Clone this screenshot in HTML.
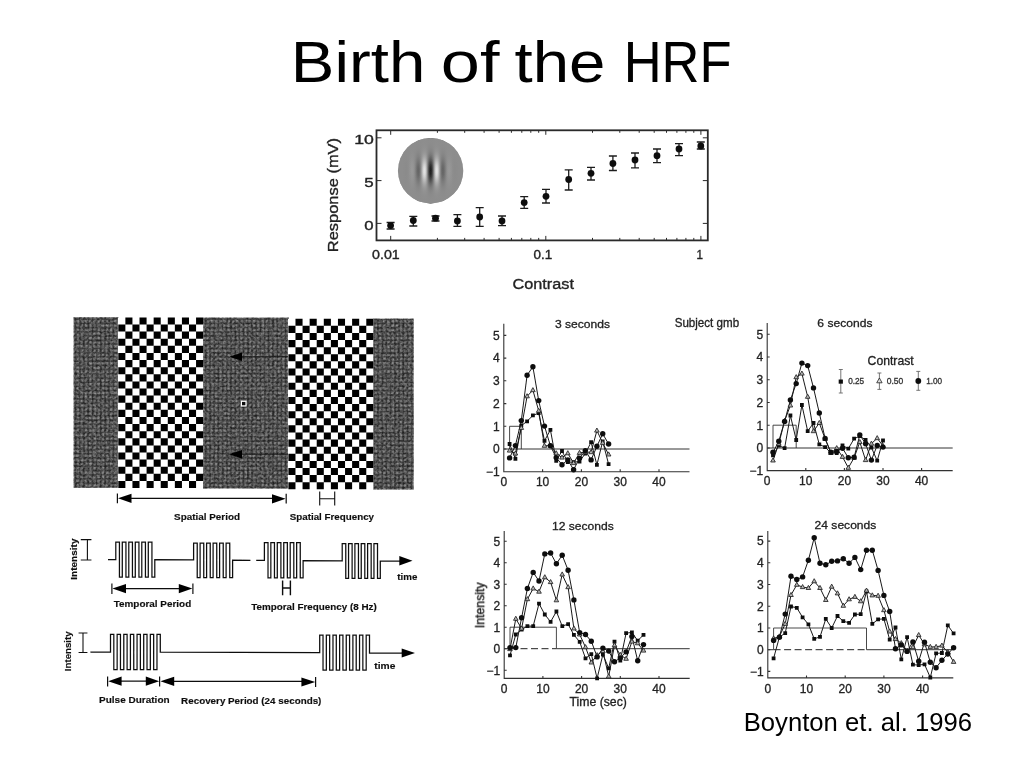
<!DOCTYPE html>
<html lang="en"><head><meta charset="utf-8"><title>Birth of the HRF</title>
<style>html,body{margin:0;padding:0;background:#fff;}body{width:1024px;height:768px;overflow:hidden;}svg{display:block;}text{font-family:'Liberation Sans', Arial, Helvetica, sans-serif;}</style>
</head><body>
<svg width="1024" height="768" viewBox="0 0 1024 768">
<defs>
<pattern id="dither" width="4.2" height="4.2" patternUnits="userSpaceOnUse"><rect width="4.2" height="4.2" fill="#2e2e2e"/><rect x="0.6" y="0.6" width="3" height="3" fill="#6c6c6c"/><rect x="1.2" y="1.2" width="1.8" height="1.8" fill="#828282"/></pattern>
<filter id="noise" x="0" y="0" width="100%" height="100%" color-interpolation-filters="sRGB"><feTurbulence type="fractalNoise" baseFrequency="0.4" numOctaves="2" seed="11" result="n"/><feColorMatrix in="n" type="matrix" values="1.4 0 0 0 -0.38  1.4 0 0 0 -0.38  1.4 0 0 0 -0.38  0 0 0 0 1"/></filter>
<linearGradient id="gaborBars" gradientUnits="userSpaceOnUse" x1="396.6" x2="464.6" y1="0" y2="0">
<stop offset="0.0000" stop-color="#8d8d8d"/>
<stop offset="0.0147" stop-color="#8d8d8d"/>
<stop offset="0.0294" stop-color="#8d8d8d"/>
<stop offset="0.0441" stop-color="#8d8d8d"/>
<stop offset="0.0588" stop-color="#8d8d8d"/>
<stop offset="0.0735" stop-color="#8d8d8d"/>
<stop offset="0.0882" stop-color="#8d8d8d"/>
<stop offset="0.1029" stop-color="#8c8c8c"/>
<stop offset="0.1176" stop-color="#8c8c8c"/>
<stop offset="0.1324" stop-color="#8b8b8b"/>
<stop offset="0.1471" stop-color="#8b8b8b"/>
<stop offset="0.1618" stop-color="#8c8c8c"/>
<stop offset="0.1765" stop-color="#8e8e8e"/>
<stop offset="0.1912" stop-color="#929292"/>
<stop offset="0.2059" stop-color="#959595"/>
<stop offset="0.2206" stop-color="#989898"/>
<stop offset="0.2353" stop-color="#989898"/>
<stop offset="0.2500" stop-color="#949494"/>
<stop offset="0.2647" stop-color="#8c8c8c"/>
<stop offset="0.2794" stop-color="#7f7f7f"/>
<stop offset="0.2941" stop-color="#727272"/>
<stop offset="0.3088" stop-color="#676767"/>
<stop offset="0.3235" stop-color="#656565"/>
<stop offset="0.3382" stop-color="#6e6e6e"/>
<stop offset="0.3529" stop-color="#848484"/>
<stop offset="0.3676" stop-color="#a2a2a2"/>
<stop offset="0.3824" stop-color="#c3c3c3"/>
<stop offset="0.3971" stop-color="#dcdcdc"/>
<stop offset="0.4118" stop-color="#e4e4e4"/>
<stop offset="0.4265" stop-color="#d6d6d6"/>
<stop offset="0.4412" stop-color="#b2b2b2"/>
<stop offset="0.4559" stop-color="#818181"/>
<stop offset="0.4706" stop-color="#505050"/>
<stop offset="0.4853" stop-color="#2b2b2b"/>
<stop offset="0.5000" stop-color="#1d1d1d"/>
<stop offset="0.5147" stop-color="#2b2b2b"/>
<stop offset="0.5294" stop-color="#505050"/>
<stop offset="0.5441" stop-color="#818181"/>
<stop offset="0.5588" stop-color="#b2b2b2"/>
<stop offset="0.5735" stop-color="#d6d6d6"/>
<stop offset="0.5882" stop-color="#e4e4e4"/>
<stop offset="0.6029" stop-color="#dcdcdc"/>
<stop offset="0.6176" stop-color="#c3c3c3"/>
<stop offset="0.6324" stop-color="#a2a2a2"/>
<stop offset="0.6471" stop-color="#848484"/>
<stop offset="0.6618" stop-color="#6e6e6e"/>
<stop offset="0.6765" stop-color="#656565"/>
<stop offset="0.6912" stop-color="#676767"/>
<stop offset="0.7059" stop-color="#727272"/>
<stop offset="0.7206" stop-color="#7f7f7f"/>
<stop offset="0.7353" stop-color="#8c8c8c"/>
<stop offset="0.7500" stop-color="#949494"/>
<stop offset="0.7647" stop-color="#989898"/>
<stop offset="0.7794" stop-color="#989898"/>
<stop offset="0.7941" stop-color="#959595"/>
<stop offset="0.8088" stop-color="#929292"/>
<stop offset="0.8235" stop-color="#8e8e8e"/>
<stop offset="0.8382" stop-color="#8c8c8c"/>
<stop offset="0.8529" stop-color="#8b8b8b"/>
<stop offset="0.8676" stop-color="#8b8b8b"/>
<stop offset="0.8824" stop-color="#8c8c8c"/>
<stop offset="0.8971" stop-color="#8c8c8c"/>
<stop offset="0.9118" stop-color="#8d8d8d"/>
<stop offset="0.9265" stop-color="#8d8d8d"/>
<stop offset="0.9412" stop-color="#8d8d8d"/>
<stop offset="0.9559" stop-color="#8d8d8d"/>
<stop offset="0.9706" stop-color="#8d8d8d"/>
<stop offset="0.9853" stop-color="#8d8d8d"/>
<stop offset="1.0000" stop-color="#8d8d8d"/>
</linearGradient>
<linearGradient id="gaborEnv" gradientUnits="userSpaceOnUse" x1="0" x2="0" y1="136.7" y2="204.7">
<stop offset="0.0000" stop-color="#8d8d8d" stop-opacity="0.999"/>
<stop offset="0.0294" stop-color="#8d8d8d" stop-opacity="0.999"/>
<stop offset="0.0588" stop-color="#8d8d8d" stop-opacity="0.997"/>
<stop offset="0.0882" stop-color="#8d8d8d" stop-opacity="0.994"/>
<stop offset="0.1176" stop-color="#8d8d8d" stop-opacity="0.987"/>
<stop offset="0.1471" stop-color="#8d8d8d" stop-opacity="0.976"/>
<stop offset="0.1765" stop-color="#8d8d8d" stop-opacity="0.956"/>
<stop offset="0.2059" stop-color="#8d8d8d" stop-opacity="0.924"/>
<stop offset="0.2353" stop-color="#8d8d8d" stop-opacity="0.877"/>
<stop offset="0.2647" stop-color="#8d8d8d" stop-opacity="0.809"/>
<stop offset="0.2941" stop-color="#8d8d8d" stop-opacity="0.718"/>
<stop offset="0.3235" stop-color="#8d8d8d" stop-opacity="0.605"/>
<stop offset="0.3529" stop-color="#8d8d8d" stop-opacity="0.476"/>
<stop offset="0.3824" stop-color="#8d8d8d" stop-opacity="0.338"/>
<stop offset="0.4118" stop-color="#8d8d8d" stop-opacity="0.207"/>
<stop offset="0.4412" stop-color="#8d8d8d" stop-opacity="0.098"/>
<stop offset="0.4706" stop-color="#8d8d8d" stop-opacity="0.025"/>
<stop offset="0.5000" stop-color="#8d8d8d" stop-opacity="0.000"/>
<stop offset="0.5294" stop-color="#8d8d8d" stop-opacity="0.025"/>
<stop offset="0.5588" stop-color="#8d8d8d" stop-opacity="0.098"/>
<stop offset="0.5882" stop-color="#8d8d8d" stop-opacity="0.207"/>
<stop offset="0.6176" stop-color="#8d8d8d" stop-opacity="0.338"/>
<stop offset="0.6471" stop-color="#8d8d8d" stop-opacity="0.476"/>
<stop offset="0.6765" stop-color="#8d8d8d" stop-opacity="0.605"/>
<stop offset="0.7059" stop-color="#8d8d8d" stop-opacity="0.718"/>
<stop offset="0.7353" stop-color="#8d8d8d" stop-opacity="0.809"/>
<stop offset="0.7647" stop-color="#8d8d8d" stop-opacity="0.877"/>
<stop offset="0.7941" stop-color="#8d8d8d" stop-opacity="0.924"/>
<stop offset="0.8235" stop-color="#8d8d8d" stop-opacity="0.956"/>
<stop offset="0.8529" stop-color="#8d8d8d" stop-opacity="0.976"/>
<stop offset="0.8824" stop-color="#8d8d8d" stop-opacity="0.987"/>
<stop offset="0.9118" stop-color="#8d8d8d" stop-opacity="0.994"/>
<stop offset="0.9412" stop-color="#8d8d8d" stop-opacity="0.997"/>
<stop offset="0.9706" stop-color="#8d8d8d" stop-opacity="0.999"/>
<stop offset="1.0000" stop-color="#8d8d8d" stop-opacity="0.999"/>
</linearGradient>
<clipPath id="gclip"><circle cx="430.6" cy="170.7" r="32.7"/></clipPath>
<filter id="soft" x="-2%" y="-2%" width="104%" height="104%"><feGaussianBlur stdDeviation="0.4"/></filter>
</defs>
<text x="290.89" y="81.5" font-size="57.5" text-anchor="start" font-weight="normal" fill="#000" textLength="134.37" lengthAdjust="spacingAndGlyphs">Birth</text>
<text x="440.8" y="81.5" font-size="57.5" text-anchor="start" font-weight="normal" fill="#000" textLength="58.63" lengthAdjust="spacingAndGlyphs">of</text>
<text x="514.52" y="81.5" font-size="57.5" text-anchor="start" font-weight="normal" fill="#000" textLength="90.87" lengthAdjust="spacingAndGlyphs">the</text>
<text x="623.69" y="81.5" font-size="57.5" text-anchor="start" font-weight="normal" fill="#000" textLength="107.92" lengthAdjust="spacingAndGlyphs">HRF</text>
<g id="crf" filter="url(#soft)">
<rect x="376.5" y="130.3" width="331.29999999999995" height="110.1" fill="#fff" stroke="#2a2a2a" stroke-width="1.8"/>
<path d="M390.7 240.4v-4.5M390.7 130.3v4.5M437.4 240.4v-2.5M437.4 130.3v2.5M464.7 240.4v-2.5M464.7 130.3v2.5M484.1 240.4v-2.5M484.1 130.3v2.5M499.1 240.4v-2.5M499.1 130.3v2.5M511.4 240.4v-2.5M511.4 130.3v2.5M521.8 240.4v-2.5M521.8 130.3v2.5M530.8 240.4v-2.5M530.8 130.3v2.5M538.7 240.4v-2.5M538.7 130.3v2.5M545.8 240.4v-4.5M545.8 130.3v4.5M592.5 240.4v-2.5M592.5 130.3v2.5M619.8 240.4v-2.5M619.8 130.3v2.5M639.2 240.4v-2.5M639.2 130.3v2.5M654.2 240.4v-2.5M654.2 130.3v2.5M666.5 240.4v-2.5M666.5 130.3v2.5M676.9 240.4v-2.5M676.9 130.3v2.5M685.9 240.4v-2.5M685.9 130.3v2.5M693.8 240.4v-2.5M693.8 130.3v2.5M700.9 240.4v-4.5M700.9 130.3v4.5M376.5 223.4h5M707.8 223.4h-5M376.5 180.6h5M707.8 180.6h-5M376.5 137.8h5M707.8 137.8h-5" stroke="#2a2a2a" stroke-width="1" fill="none"/>
<g clip-path="url(#gclip)">
<rect x="397" y="137" width="68" height="68" fill="url(#gaborBars)"/>
<rect x="397" y="137" width="68" height="68" fill="url(#gaborEnv)"/>
</g>
<path d="M390.6 222.5V229.0M386.6 222.5h8M386.6 229.0h8M413.3 216.3V226.0M409.3 216.3h8M409.3 226.0h8M435.5 216.0V221.0M431.5 216.0h8M431.5 221.0h8M457.4 214.7V226.4M453.4 214.7h8M453.4 226.4h8M479.7 207.7V226.4M475.7 207.7h8M475.7 226.4h8M502.0 216.0V225.6M498.0 216.0h8M498.0 225.6h8M524.2 196.7V208.4M520.2 196.7h8M520.2 208.4h8M546.0 189.3V203.0M542.0 189.3h8M542.0 203.0h8M568.7 169.8V190.0M564.7 169.8h8M564.7 190.0h8M591.0 167.4V180.0M587.0 167.4h8M587.0 180.0h8M612.9 156.0V170.5M608.9 156.0h8M608.9 170.5h8M635.0 153.0V167.8M631.0 153.0h8M631.0 167.8h8M657.0 149.0V162.7M653.0 149.0h8M653.0 162.7h8M679.0 143.6V155.7M675.0 143.6h8M675.0 155.7h8M700.8 142.0V149.0M696.8 142.0h8M696.8 149.0h8" stroke="#1c1c1c" stroke-width="1.3" fill="none"/>
<circle cx="390.6" cy="225.6" r="3.4" fill="#111"/>
<circle cx="413.3" cy="220.5" r="3.4" fill="#111"/>
<circle cx="435.5" cy="218.2" r="3.4" fill="#111"/>
<circle cx="457.4" cy="221.0" r="3.4" fill="#111"/>
<circle cx="479.7" cy="217.0" r="3.4" fill="#111"/>
<circle cx="502.0" cy="221.0" r="3.4" fill="#111"/>
<circle cx="524.2" cy="202.6" r="3.4" fill="#111"/>
<circle cx="546.0" cy="196.3" r="3.4" fill="#111"/>
<circle cx="568.7" cy="179.5" r="3.4" fill="#111"/>
<circle cx="591.0" cy="173.3" r="3.4" fill="#111"/>
<circle cx="612.9" cy="163.5" r="3.4" fill="#111"/>
<circle cx="635.0" cy="160.0" r="3.4" fill="#111"/>
<circle cx="657.0" cy="155.7" r="3.4" fill="#111"/>
<circle cx="679.0" cy="149.0" r="3.4" fill="#111"/>
<circle cx="700.8" cy="146.0" r="3.4" fill="#111"/>
<text x="354.26" y="143.8" font-size="13" text-anchor="start" font-weight="normal" fill="#222" textLength="19.64" lengthAdjust="spacingAndGlyphs" stroke="#222" stroke-width="0.35">10</text>
<text x="364.32" y="187.2" font-size="13" text-anchor="start" font-weight="normal" fill="#222" textLength="9.39" lengthAdjust="spacingAndGlyphs" stroke="#222" stroke-width="0.35">5</text>
<text x="364.35" y="230.2" font-size="13" text-anchor="start" font-weight="normal" fill="#222" textLength="9.31" lengthAdjust="spacingAndGlyphs" stroke="#222" stroke-width="0.35">0</text>
<text x="372.05" y="258.6" font-size="12.5" text-anchor="start" font-weight="normal" fill="#222" textLength="27.65" lengthAdjust="spacingAndGlyphs" stroke="#222" stroke-width="0.35">0.01</text>
<text x="533.48" y="258.6" font-size="12.5" text-anchor="start" font-weight="normal" fill="#222" textLength="18.68" lengthAdjust="spacingAndGlyphs" stroke="#222" stroke-width="0.35">0.1</text>
<text x="696.42" y="258.6" font-size="12.5" text-anchor="start" font-weight="normal" fill="#222" textLength="6.45" lengthAdjust="spacingAndGlyphs" stroke="#222" stroke-width="0.35">1</text>
<text x="512.47" y="288.5" font-size="15.5" text-anchor="start" font-weight="normal" fill="#222" textLength="61.45" lengthAdjust="spacingAndGlyphs" stroke="#222" stroke-width="0.35">Contrast</text>
<text transform="translate(337.8,252.15) rotate(-90)" font-size="15.4" font-weight="normal" fill="#222" stroke="#222" stroke-width="0.35" textLength="114.16" lengthAdjust="spacingAndGlyphs">Response (mV)</text>
</g>
<g id="stim" filter="url(#soft)">
<rect x="73.8" y="317.3" width="45" height="170.4" fill="url(#dither)"/>
<rect x="73.8" y="317.3" width="45" height="170.4" fill="#505050" filter="url(#noise)" opacity="0.35"/>
<rect x="203" y="317.8" width="86" height="170.6" fill="url(#dither)"/>
<rect x="203" y="317.8" width="86" height="170.6" fill="#505050" filter="url(#noise)" opacity="0.35"/>
<rect x="373" y="318.8" width="40.6" height="170.6" fill="url(#dither)"/>
<rect x="373" y="318.8" width="40.6" height="170.6" fill="#505050" filter="url(#noise)" opacity="0.35"/>
<rect x="117.80" y="317.40" width="85.34" height="170.64" fill="#fff"/>
<path d="M125.37 317.40h7.07v7.11h-7.07zM139.51 317.40h7.07v7.11h-7.07zM153.65 317.40h7.07v7.11h-7.07zM167.79 317.40h7.07v7.11h-7.07zM181.93 317.40h7.07v7.11h-7.07zM196.07 317.40h7.07v7.11h-7.07zM118.30 324.51h7.07v7.11h-7.07zM132.44 324.51h7.07v7.11h-7.07zM146.58 324.51h7.07v7.11h-7.07zM160.72 324.51h7.07v7.11h-7.07zM174.86 324.51h7.07v7.11h-7.07zM189.00 324.51h7.07v7.11h-7.07zM125.37 331.62h7.07v7.11h-7.07zM139.51 331.62h7.07v7.11h-7.07zM153.65 331.62h7.07v7.11h-7.07zM167.79 331.62h7.07v7.11h-7.07zM181.93 331.62h7.07v7.11h-7.07zM196.07 331.62h7.07v7.11h-7.07zM118.30 338.73h7.07v7.11h-7.07zM132.44 338.73h7.07v7.11h-7.07zM146.58 338.73h7.07v7.11h-7.07zM160.72 338.73h7.07v7.11h-7.07zM174.86 338.73h7.07v7.11h-7.07zM189.00 338.73h7.07v7.11h-7.07zM125.37 345.84h7.07v7.11h-7.07zM139.51 345.84h7.07v7.11h-7.07zM153.65 345.84h7.07v7.11h-7.07zM167.79 345.84h7.07v7.11h-7.07zM181.93 345.84h7.07v7.11h-7.07zM196.07 345.84h7.07v7.11h-7.07zM118.30 352.95h7.07v7.11h-7.07zM132.44 352.95h7.07v7.11h-7.07zM146.58 352.95h7.07v7.11h-7.07zM160.72 352.95h7.07v7.11h-7.07zM174.86 352.95h7.07v7.11h-7.07zM189.00 352.95h7.07v7.11h-7.07zM125.37 360.06h7.07v7.11h-7.07zM139.51 360.06h7.07v7.11h-7.07zM153.65 360.06h7.07v7.11h-7.07zM167.79 360.06h7.07v7.11h-7.07zM181.93 360.06h7.07v7.11h-7.07zM196.07 360.06h7.07v7.11h-7.07zM118.30 367.17h7.07v7.11h-7.07zM132.44 367.17h7.07v7.11h-7.07zM146.58 367.17h7.07v7.11h-7.07zM160.72 367.17h7.07v7.11h-7.07zM174.86 367.17h7.07v7.11h-7.07zM189.00 367.17h7.07v7.11h-7.07zM125.37 374.28h7.07v7.11h-7.07zM139.51 374.28h7.07v7.11h-7.07zM153.65 374.28h7.07v7.11h-7.07zM167.79 374.28h7.07v7.11h-7.07zM181.93 374.28h7.07v7.11h-7.07zM196.07 374.28h7.07v7.11h-7.07zM118.30 381.39h7.07v7.11h-7.07zM132.44 381.39h7.07v7.11h-7.07zM146.58 381.39h7.07v7.11h-7.07zM160.72 381.39h7.07v7.11h-7.07zM174.86 381.39h7.07v7.11h-7.07zM189.00 381.39h7.07v7.11h-7.07zM125.37 388.50h7.07v7.11h-7.07zM139.51 388.50h7.07v7.11h-7.07zM153.65 388.50h7.07v7.11h-7.07zM167.79 388.50h7.07v7.11h-7.07zM181.93 388.50h7.07v7.11h-7.07zM196.07 388.50h7.07v7.11h-7.07zM118.30 395.61h7.07v7.11h-7.07zM132.44 395.61h7.07v7.11h-7.07zM146.58 395.61h7.07v7.11h-7.07zM160.72 395.61h7.07v7.11h-7.07zM174.86 395.61h7.07v7.11h-7.07zM189.00 395.61h7.07v7.11h-7.07zM125.37 402.72h7.07v7.11h-7.07zM139.51 402.72h7.07v7.11h-7.07zM153.65 402.72h7.07v7.11h-7.07zM167.79 402.72h7.07v7.11h-7.07zM181.93 402.72h7.07v7.11h-7.07zM196.07 402.72h7.07v7.11h-7.07zM118.30 409.83h7.07v7.11h-7.07zM132.44 409.83h7.07v7.11h-7.07zM146.58 409.83h7.07v7.11h-7.07zM160.72 409.83h7.07v7.11h-7.07zM174.86 409.83h7.07v7.11h-7.07zM189.00 409.83h7.07v7.11h-7.07zM125.37 416.94h7.07v7.11h-7.07zM139.51 416.94h7.07v7.11h-7.07zM153.65 416.94h7.07v7.11h-7.07zM167.79 416.94h7.07v7.11h-7.07zM181.93 416.94h7.07v7.11h-7.07zM196.07 416.94h7.07v7.11h-7.07zM118.30 424.05h7.07v7.11h-7.07zM132.44 424.05h7.07v7.11h-7.07zM146.58 424.05h7.07v7.11h-7.07zM160.72 424.05h7.07v7.11h-7.07zM174.86 424.05h7.07v7.11h-7.07zM189.00 424.05h7.07v7.11h-7.07zM125.37 431.16h7.07v7.11h-7.07zM139.51 431.16h7.07v7.11h-7.07zM153.65 431.16h7.07v7.11h-7.07zM167.79 431.16h7.07v7.11h-7.07zM181.93 431.16h7.07v7.11h-7.07zM196.07 431.16h7.07v7.11h-7.07zM118.30 438.27h7.07v7.11h-7.07zM132.44 438.27h7.07v7.11h-7.07zM146.58 438.27h7.07v7.11h-7.07zM160.72 438.27h7.07v7.11h-7.07zM174.86 438.27h7.07v7.11h-7.07zM189.00 438.27h7.07v7.11h-7.07zM125.37 445.38h7.07v7.11h-7.07zM139.51 445.38h7.07v7.11h-7.07zM153.65 445.38h7.07v7.11h-7.07zM167.79 445.38h7.07v7.11h-7.07zM181.93 445.38h7.07v7.11h-7.07zM196.07 445.38h7.07v7.11h-7.07zM118.30 452.49h7.07v7.11h-7.07zM132.44 452.49h7.07v7.11h-7.07zM146.58 452.49h7.07v7.11h-7.07zM160.72 452.49h7.07v7.11h-7.07zM174.86 452.49h7.07v7.11h-7.07zM189.00 452.49h7.07v7.11h-7.07zM125.37 459.60h7.07v7.11h-7.07zM139.51 459.60h7.07v7.11h-7.07zM153.65 459.60h7.07v7.11h-7.07zM167.79 459.60h7.07v7.11h-7.07zM181.93 459.60h7.07v7.11h-7.07zM196.07 459.60h7.07v7.11h-7.07zM118.30 466.71h7.07v7.11h-7.07zM132.44 466.71h7.07v7.11h-7.07zM146.58 466.71h7.07v7.11h-7.07zM160.72 466.71h7.07v7.11h-7.07zM174.86 466.71h7.07v7.11h-7.07zM189.00 466.71h7.07v7.11h-7.07zM125.37 473.82h7.07v7.11h-7.07zM139.51 473.82h7.07v7.11h-7.07zM153.65 473.82h7.07v7.11h-7.07zM167.79 473.82h7.07v7.11h-7.07zM181.93 473.82h7.07v7.11h-7.07zM196.07 473.82h7.07v7.11h-7.07zM118.30 480.93h7.07v7.11h-7.07zM132.44 480.93h7.07v7.11h-7.07zM146.58 480.93h7.07v7.11h-7.07zM160.72 480.93h7.07v7.11h-7.07zM174.86 480.93h7.07v7.11h-7.07zM189.00 480.93h7.07v7.11h-7.07z" fill="#000"/>
<rect x="287.90" y="318.70" width="85.46" height="170.64" fill="#fff"/>
<path d="M295.48 318.70h7.08v7.11h-7.08zM309.64 318.70h7.08v7.11h-7.08zM323.80 318.70h7.08v7.11h-7.08zM337.96 318.70h7.08v7.11h-7.08zM352.12 318.70h7.08v7.11h-7.08zM366.28 318.70h7.08v7.11h-7.08zM288.40 325.81h7.08v7.11h-7.08zM302.56 325.81h7.08v7.11h-7.08zM316.72 325.81h7.08v7.11h-7.08zM330.88 325.81h7.08v7.11h-7.08zM345.04 325.81h7.08v7.11h-7.08zM359.20 325.81h7.08v7.11h-7.08zM295.48 332.92h7.08v7.11h-7.08zM309.64 332.92h7.08v7.11h-7.08zM323.80 332.92h7.08v7.11h-7.08zM337.96 332.92h7.08v7.11h-7.08zM352.12 332.92h7.08v7.11h-7.08zM366.28 332.92h7.08v7.11h-7.08zM288.40 340.03h7.08v7.11h-7.08zM302.56 340.03h7.08v7.11h-7.08zM316.72 340.03h7.08v7.11h-7.08zM330.88 340.03h7.08v7.11h-7.08zM345.04 340.03h7.08v7.11h-7.08zM359.20 340.03h7.08v7.11h-7.08zM295.48 347.14h7.08v7.11h-7.08zM309.64 347.14h7.08v7.11h-7.08zM323.80 347.14h7.08v7.11h-7.08zM337.96 347.14h7.08v7.11h-7.08zM352.12 347.14h7.08v7.11h-7.08zM366.28 347.14h7.08v7.11h-7.08zM288.40 354.25h7.08v7.11h-7.08zM302.56 354.25h7.08v7.11h-7.08zM316.72 354.25h7.08v7.11h-7.08zM330.88 354.25h7.08v7.11h-7.08zM345.04 354.25h7.08v7.11h-7.08zM359.20 354.25h7.08v7.11h-7.08zM295.48 361.36h7.08v7.11h-7.08zM309.64 361.36h7.08v7.11h-7.08zM323.80 361.36h7.08v7.11h-7.08zM337.96 361.36h7.08v7.11h-7.08zM352.12 361.36h7.08v7.11h-7.08zM366.28 361.36h7.08v7.11h-7.08zM288.40 368.47h7.08v7.11h-7.08zM302.56 368.47h7.08v7.11h-7.08zM316.72 368.47h7.08v7.11h-7.08zM330.88 368.47h7.08v7.11h-7.08zM345.04 368.47h7.08v7.11h-7.08zM359.20 368.47h7.08v7.11h-7.08zM295.48 375.58h7.08v7.11h-7.08zM309.64 375.58h7.08v7.11h-7.08zM323.80 375.58h7.08v7.11h-7.08zM337.96 375.58h7.08v7.11h-7.08zM352.12 375.58h7.08v7.11h-7.08zM366.28 375.58h7.08v7.11h-7.08zM288.40 382.69h7.08v7.11h-7.08zM302.56 382.69h7.08v7.11h-7.08zM316.72 382.69h7.08v7.11h-7.08zM330.88 382.69h7.08v7.11h-7.08zM345.04 382.69h7.08v7.11h-7.08zM359.20 382.69h7.08v7.11h-7.08zM295.48 389.80h7.08v7.11h-7.08zM309.64 389.80h7.08v7.11h-7.08zM323.80 389.80h7.08v7.11h-7.08zM337.96 389.80h7.08v7.11h-7.08zM352.12 389.80h7.08v7.11h-7.08zM366.28 389.80h7.08v7.11h-7.08zM288.40 396.91h7.08v7.11h-7.08zM302.56 396.91h7.08v7.11h-7.08zM316.72 396.91h7.08v7.11h-7.08zM330.88 396.91h7.08v7.11h-7.08zM345.04 396.91h7.08v7.11h-7.08zM359.20 396.91h7.08v7.11h-7.08zM295.48 404.02h7.08v7.11h-7.08zM309.64 404.02h7.08v7.11h-7.08zM323.80 404.02h7.08v7.11h-7.08zM337.96 404.02h7.08v7.11h-7.08zM352.12 404.02h7.08v7.11h-7.08zM366.28 404.02h7.08v7.11h-7.08zM288.40 411.13h7.08v7.11h-7.08zM302.56 411.13h7.08v7.11h-7.08zM316.72 411.13h7.08v7.11h-7.08zM330.88 411.13h7.08v7.11h-7.08zM345.04 411.13h7.08v7.11h-7.08zM359.20 411.13h7.08v7.11h-7.08zM295.48 418.24h7.08v7.11h-7.08zM309.64 418.24h7.08v7.11h-7.08zM323.80 418.24h7.08v7.11h-7.08zM337.96 418.24h7.08v7.11h-7.08zM352.12 418.24h7.08v7.11h-7.08zM366.28 418.24h7.08v7.11h-7.08zM288.40 425.35h7.08v7.11h-7.08zM302.56 425.35h7.08v7.11h-7.08zM316.72 425.35h7.08v7.11h-7.08zM330.88 425.35h7.08v7.11h-7.08zM345.04 425.35h7.08v7.11h-7.08zM359.20 425.35h7.08v7.11h-7.08zM295.48 432.46h7.08v7.11h-7.08zM309.64 432.46h7.08v7.11h-7.08zM323.80 432.46h7.08v7.11h-7.08zM337.96 432.46h7.08v7.11h-7.08zM352.12 432.46h7.08v7.11h-7.08zM366.28 432.46h7.08v7.11h-7.08zM288.40 439.57h7.08v7.11h-7.08zM302.56 439.57h7.08v7.11h-7.08zM316.72 439.57h7.08v7.11h-7.08zM330.88 439.57h7.08v7.11h-7.08zM345.04 439.57h7.08v7.11h-7.08zM359.20 439.57h7.08v7.11h-7.08zM295.48 446.68h7.08v7.11h-7.08zM309.64 446.68h7.08v7.11h-7.08zM323.80 446.68h7.08v7.11h-7.08zM337.96 446.68h7.08v7.11h-7.08zM352.12 446.68h7.08v7.11h-7.08zM366.28 446.68h7.08v7.11h-7.08zM288.40 453.79h7.08v7.11h-7.08zM302.56 453.79h7.08v7.11h-7.08zM316.72 453.79h7.08v7.11h-7.08zM330.88 453.79h7.08v7.11h-7.08zM345.04 453.79h7.08v7.11h-7.08zM359.20 453.79h7.08v7.11h-7.08zM295.48 460.90h7.08v7.11h-7.08zM309.64 460.90h7.08v7.11h-7.08zM323.80 460.90h7.08v7.11h-7.08zM337.96 460.90h7.08v7.11h-7.08zM352.12 460.90h7.08v7.11h-7.08zM366.28 460.90h7.08v7.11h-7.08zM288.40 468.01h7.08v7.11h-7.08zM302.56 468.01h7.08v7.11h-7.08zM316.72 468.01h7.08v7.11h-7.08zM330.88 468.01h7.08v7.11h-7.08zM345.04 468.01h7.08v7.11h-7.08zM359.20 468.01h7.08v7.11h-7.08zM295.48 475.12h7.08v7.11h-7.08zM309.64 475.12h7.08v7.11h-7.08zM323.80 475.12h7.08v7.11h-7.08zM337.96 475.12h7.08v7.11h-7.08zM352.12 475.12h7.08v7.11h-7.08zM366.28 475.12h7.08v7.11h-7.08zM288.40 482.23h7.08v7.11h-7.08zM302.56 482.23h7.08v7.11h-7.08zM316.72 482.23h7.08v7.11h-7.08zM330.88 482.23h7.08v7.11h-7.08zM345.04 482.23h7.08v7.11h-7.08zM359.20 482.23h7.08v7.11h-7.08z" fill="#000"/>
<path d="M242 356.7H288M242 454.3H288" stroke="#161616" stroke-width="0.8" fill="none"/>
<path d="M229.5 356.7l12.5 -4.2v8.4zM229 454.3l13 -4.2v8.4z" fill="#000"/>
<rect x="241.4" y="401.3" width="4.6" height="4.6" fill="#111" stroke="#fff" stroke-width="1.2"/>
<path d="M117.4 493.5V503.2M286.2 493.8V503.6M130 498.3H274" stroke="#111" stroke-width="1.2" fill="none"/>
<path d="M118 498.3l13.5 -4.6v9.2zM285.6 498.8l-13.6 -4.6v9.2z" fill="#000"/>
<path d="M319.7 491.4V505.6M334.7 491.4V505.6M319.7 498.8H334.7" stroke="#111" stroke-width="1.1" fill="none"/>
<text x="174.11" y="519.5" font-size="9.6" text-anchor="start" font-weight="bold" fill="#111" textLength="65.93" lengthAdjust="spacingAndGlyphs" stroke="#111" stroke-width="0.15">Spatial Period</text>
<text x="289.72" y="519.5" font-size="9.6" text-anchor="start" font-weight="bold" fill="#111" textLength="84.33" lengthAdjust="spacingAndGlyphs" stroke="#111" stroke-width="0.15">Spatial Frequency</text>
<path d="M108 559.5L115.80 559.50L115.80 542.20L119.44 542.20L119.44 577.10L122.30 577.10L122.30 542.20L125.94 542.20L125.94 577.10L128.80 577.10L128.80 542.20L132.44 542.20L132.44 577.10L135.30 577.10L135.30 542.20L138.94 542.20L138.94 577.10L141.80 577.10L141.80 542.20L145.44 542.20L145.44 577.10L148.30 577.10L148.30 542.20L151.94 542.20L151.94 577.10L154.80 577.10L154.80 559.70L193.60 559.90L193.60 543.00L197.24 543.00L197.24 577.50L200.10 577.50L200.10 543.00L203.74 543.00L203.74 577.50L206.60 577.50L206.60 543.00L210.24 543.00L210.24 577.50L213.10 577.50L213.10 543.00L216.74 543.00L216.74 577.50L219.60 577.50L219.60 543.00L223.24 543.00L223.24 577.50L226.10 577.50L226.10 543.00L229.74 543.00L229.74 577.50L232.60 577.50L232.60 560.20L250.4 560.3" stroke="#111" stroke-width="1.25" fill="none" stroke-linejoin="miter"/>
<path d="M256.2 560.4L264.40 560.40L264.40 542.60L268.01 542.60L268.01 577.80L270.85 577.80L270.85 542.60L274.46 542.60L274.46 577.80L277.30 577.80L277.30 542.60L280.91 542.60L280.91 577.80L283.75 577.80L283.75 542.60L287.36 542.60L287.36 577.80L290.20 577.80L290.20 542.60L293.81 542.60L293.81 577.80L296.65 577.80L296.65 542.60L300.26 542.60L300.26 577.80L303.10 577.80L303.10 560.60L342.20 560.80L342.20 543.50L345.76 543.50L345.76 578.30L348.55 578.30L348.55 543.50L352.11 543.50L352.11 578.30L354.90 578.30L354.90 543.50L358.46 543.50L358.46 578.30L361.25 578.30L361.25 543.50L364.81 543.50L364.81 578.30L367.60 578.30L367.60 543.50L371.16 543.50L371.16 578.30L373.95 578.30L373.95 543.50L377.51 543.50L377.51 578.30L380.30 578.30L380.30 561.00L400 561" stroke="#111" stroke-width="1.25" fill="none"/>
<path d="M412.5 560.8l-13.2 -4.7v9.4z" fill="#000"/>
<text x="397.28" y="580" font-size="9.8" text-anchor="start" font-weight="bold" fill="#111" textLength="20.05" lengthAdjust="spacingAndGlyphs" stroke="#111" stroke-width="0.15">time</text>
<path d="M87.4 539.6V560M80.8 539.6H91.4M80.8 560H91.4" stroke="#111" stroke-width="1.1" fill="none"/>
<text transform="translate(76.8,579.67) rotate(-90)" font-size="9.2" font-weight="bold" fill="#111" stroke="#111" stroke-width="0.15" textLength="41.12" lengthAdjust="spacingAndGlyphs">Intensity</text>
<path d="M111.9 583.6V594M192.9 583.6V594M125 588.6H180" stroke="#111" stroke-width="1.2" fill="none"/>
<path d="M112.4 588.6l13.6 -4.6v9.2zM192.4 588.6l-13.6 -4.6v9.2z" fill="#000"/>
<text x="113.69" y="606.9" font-size="9.8" text-anchor="start" font-weight="bold" fill="#111" textLength="77.56" lengthAdjust="spacingAndGlyphs" stroke="#111" stroke-width="0.15">Temporal Period</text>
<path d="M282.6 580.6V595.3M290.4 580.6V595.3M282.6 588H290.4" stroke="#111" stroke-width="1.4" fill="none"/>
<text x="251.19" y="609.7" font-size="9.8" text-anchor="start" font-weight="bold" fill="#111" textLength="125.6" lengthAdjust="spacingAndGlyphs" stroke="#111" stroke-width="0.15">Temporal Frequency (8 Hz)</text>
<path d="M90.4 652L110.50 652.00L110.50 634.40L113.82 634.40L113.82 669.50L117.14 669.50L117.14 634.40L120.46 634.40L120.46 669.50L123.78 669.50L123.78 634.40L127.10 634.40L127.10 669.50L130.42 669.50L130.42 634.40L133.74 634.40L133.74 669.50L137.06 669.50L137.06 634.40L140.38 634.40L140.38 669.50L143.70 669.50L143.70 634.40L147.02 634.40L147.02 669.50L150.34 669.50L150.34 634.40L153.66 634.40L153.66 669.50L156.98 669.50L156.98 634.40L160.30 634.40L160.30 652.20L319.70 652.60L319.70 635.00L323.02 635.00L323.02 670.00L326.34 670.00L326.34 635.00L329.66 635.00L329.66 670.00L332.98 670.00L332.98 635.00L336.30 635.00L336.30 670.00L339.62 670.00L339.62 635.00L342.94 635.00L342.94 670.00L346.26 670.00L346.26 635.00L349.58 635.00L349.58 670.00L352.90 670.00L352.90 635.00L356.22 635.00L356.22 670.00L359.54 670.00L359.54 635.00L362.86 635.00L362.86 670.00L366.18 670.00L366.18 635.00L369.50 635.00L369.50 653.00L402 653" stroke="#111" stroke-width="1.25" fill="none"/>
<path d="M415 653l-13.3 -4.6v9.2z" fill="#000"/>
<text x="374.28" y="668.8" font-size="9.8" text-anchor="start" font-weight="bold" fill="#111" textLength="21.07" lengthAdjust="spacingAndGlyphs" stroke="#111" stroke-width="0.15">time</text>
<path d="M83 633V652.5M78.6 633H87.4M78.6 652.5H87.4" stroke="#111" stroke-width="1.1" fill="none"/>
<text transform="translate(71.3,671.15) rotate(-90)" font-size="9.2" font-weight="bold" fill="#111" stroke="#111" stroke-width="0.15" textLength="39.80" lengthAdjust="spacingAndGlyphs">Intensity</text>
<path d="M107.6 676.6V686.4M159.6 676.6V686.4M315.6 677V687M120 681.2H148M173 681.4H303" stroke="#111" stroke-width="1.2" fill="none"/>
<path d="M108.2 681.2l13.4 -4.6v9.2zM159.2 681.2l-13.4 -4.6v9.2zM160.4 681.3l13.8 -4.6v9.2zM315.2 682l-13.8 -4.6v9.2z" fill="#000"/>
<text x="99.03" y="702.7" font-size="9.8" text-anchor="start" font-weight="bold" fill="#111" textLength="70.59" lengthAdjust="spacingAndGlyphs" stroke="#111" stroke-width="0.15">Pulse Duration</text>
<text x="181.14" y="704.3" font-size="9.8" text-anchor="start" font-weight="bold" fill="#111" textLength="140.25" lengthAdjust="spacingAndGlyphs" stroke="#111" stroke-width="0.15">Recovery Period (24 seconds)</text>
</g>
<g id="g3s" filter="url(#soft)">
<path d="M509.6 449.0V426.3H521.3V449.0" stroke="#333" stroke-width="0.9" fill="none"/>
<path d="M503.8 449.0H689.5" stroke="#333" stroke-width="1" fill="none"/>
<path d="M503.8 323.7V471.7H689.5M503.8 471.7h2.5M503.8 449.0h2.5M503.8 426.3h2.5M503.8 403.6h2.5M503.8 380.8h2.5M503.8 358.1h2.5M503.8 335.4h2.5M542.6 471.7v-2.5M581.4 471.7v-2.5M620.2 471.7v-2.5M659.0 471.7v-2.5" stroke="#333" stroke-width="1.1" fill="none"/>
<path d="M509.6 444.0L515.4 458.8L521.3 425.6L527.1 421.3L532.9 415.4L538.7 413.1L544.5 440.8L550.4 429.9L556.2 460.8L562.0 451.0L567.8 462.2L573.6 462.2L579.5 461.5L585.3 453.5L591.1 442.2L596.9 464.9L602.7 441.3L608.6 464.2" stroke="#1a1a1a" stroke-width="1" fill="none" stroke-linejoin="round"/>
<path d="M509.6 450.6L515.4 453.5L521.3 427.9L527.1 396.3L532.9 390.2L538.7 410.8L544.5 445.8L550.4 445.6L556.2 453.3L562.0 457.6L567.8 453.3L573.6 463.1L579.5 452.9L585.3 452.2L591.1 452.2L596.9 430.6L602.7 442.9L608.6 454.5" stroke="#1a1a1a" stroke-width="1" fill="none" stroke-linejoin="round"/>
<path d="M509.6 457.9L515.4 445.6L521.3 420.6L527.1 375.2L532.9 366.8L538.7 400.6L544.5 426.1L550.4 445.8L556.2 457.6L562.0 464.7L567.8 459.9L573.6 469.7L579.5 458.3L585.3 450.6L591.1 459.9L596.9 446.3L602.7 433.8L608.6 444.0" stroke="#1a1a1a" stroke-width="1" fill="none" stroke-linejoin="round"/>
<path d="M507.7 442.1h3.8v3.8h-3.8zM513.5 456.9h3.8v3.8h-3.8zM519.4 423.7h3.8v3.8h-3.8zM525.2 419.4h3.8v3.8h-3.8zM531.0 413.5h3.8v3.8h-3.8zM536.8 411.2h3.8v3.8h-3.8zM542.6 438.9h3.8v3.8h-3.8zM548.5 428.0h3.8v3.8h-3.8zM554.3 458.9h3.8v3.8h-3.8zM560.1 449.1h3.8v3.8h-3.8zM565.9 460.3h3.8v3.8h-3.8zM571.7 460.3h3.8v3.8h-3.8zM577.6 459.6h3.8v3.8h-3.8zM583.4 451.6h3.8v3.8h-3.8zM589.2 440.3h3.8v3.8h-3.8zM595.0 463.0h3.8v3.8h-3.8zM600.8 439.4h3.8v3.8h-3.8zM606.7 462.3h3.8v3.8h-3.8z" fill="#111"/>
<path d="M509.6 448.0l2.3 4.1h-4.6zM515.4 450.9l2.3 4.1h-4.6zM521.3 425.3l2.3 4.1h-4.6zM527.1 393.7l2.3 4.1h-4.6zM532.9 387.6l2.3 4.1h-4.6zM538.7 408.2l2.3 4.1h-4.6zM544.5 443.2l2.3 4.1h-4.6zM550.4 443.0l2.3 4.1h-4.6zM556.2 450.7l2.3 4.1h-4.6zM562.0 455.0l2.3 4.1h-4.6zM567.8 450.7l2.3 4.1h-4.6zM573.6 460.5l2.3 4.1h-4.6zM579.5 450.3l2.3 4.1h-4.6zM585.3 449.6l2.3 4.1h-4.6zM591.1 449.6l2.3 4.1h-4.6zM596.9 428.0l2.3 4.1h-4.6zM602.7 440.3l2.3 4.1h-4.6zM608.6 451.9l2.3 4.1h-4.6z" fill="#b4b4b4" stroke="#222" stroke-width="0.85"/>
<circle cx="509.6" cy="457.9" r="2.7" fill="#111"/>
<circle cx="515.4" cy="445.6" r="2.7" fill="#111"/>
<circle cx="521.3" cy="420.6" r="2.7" fill="#111"/>
<circle cx="527.1" cy="375.2" r="2.7" fill="#111"/>
<circle cx="532.9" cy="366.8" r="2.7" fill="#111"/>
<circle cx="538.7" cy="400.6" r="2.7" fill="#111"/>
<circle cx="544.5" cy="426.1" r="2.7" fill="#111"/>
<circle cx="550.4" cy="445.8" r="2.7" fill="#111"/>
<circle cx="556.2" cy="457.6" r="2.7" fill="#111"/>
<circle cx="562.0" cy="464.7" r="2.7" fill="#111"/>
<circle cx="567.8" cy="459.9" r="2.7" fill="#111"/>
<circle cx="573.6" cy="469.7" r="2.7" fill="#111"/>
<circle cx="579.5" cy="458.3" r="2.7" fill="#111"/>
<circle cx="585.3" cy="450.6" r="2.7" fill="#111"/>
<circle cx="591.1" cy="459.9" r="2.7" fill="#111"/>
<circle cx="596.9" cy="446.3" r="2.7" fill="#111"/>
<circle cx="602.7" cy="433.8" r="2.7" fill="#111"/>
<circle cx="608.6" cy="444.0" r="2.7" fill="#111"/>
<text x="499.8" y="453.3" font-size="12" text-anchor="end" font-weight="normal" fill="#222" stroke="#222" stroke-width="0.3">0</text>
<text x="499.8" y="430.6" font-size="12" text-anchor="end" font-weight="normal" fill="#222" stroke="#222" stroke-width="0.3">1</text>
<text x="499.8" y="407.9" font-size="12" text-anchor="end" font-weight="normal" fill="#222" stroke="#222" stroke-width="0.3">2</text>
<text x="499.8" y="385.1" font-size="12" text-anchor="end" font-weight="normal" fill="#222" stroke="#222" stroke-width="0.3">3</text>
<text x="499.8" y="362.4" font-size="12" text-anchor="end" font-weight="normal" fill="#222" stroke="#222" stroke-width="0.3">4</text>
<text x="499.8" y="339.7" font-size="12" text-anchor="end" font-weight="normal" fill="#222" stroke="#222" stroke-width="0.3">5</text>
<text x="499.8" y="476.0" font-size="12" text-anchor="end" font-weight="normal" fill="#222" stroke="#222" stroke-width="0.3">−1</text>
<text x="503.8" y="485.5" font-size="12" text-anchor="middle" font-weight="normal" fill="#222" stroke="#222" stroke-width="0.3">0</text>
<text x="542.6" y="485.5" font-size="12" text-anchor="middle" font-weight="normal" fill="#222" stroke="#222" stroke-width="0.3">10</text>
<text x="581.4" y="485.5" font-size="12" text-anchor="middle" font-weight="normal" fill="#222" stroke="#222" stroke-width="0.3">20</text>
<text x="620.2" y="485.5" font-size="12" text-anchor="middle" font-weight="normal" fill="#222" stroke="#222" stroke-width="0.3">30</text>
<text x="659.0" y="485.5" font-size="12" text-anchor="middle" font-weight="normal" fill="#222" stroke="#222" stroke-width="0.3">40</text>
<text x="554.94" y="327.6" font-size="11.8" text-anchor="start" font-weight="normal" fill="#222" textLength="55.09" lengthAdjust="spacingAndGlyphs" stroke="#222" stroke-width="0.3">3 seconds</text>
</g>
<g id="g6s" filter="url(#soft)">
<path d="M773.0 448.0V425.2H796.2V448.0" stroke="#333" stroke-width="0.9" fill="none"/>
<path d="M767.2 448.0H952.7" stroke="#333" stroke-width="1" fill="none"/>
<path d="M767.2 323.0V470.6H952.7M767.2 470.8h2.5M767.2 448.0h2.5M767.2 425.2h2.5M767.2 402.5h2.5M767.2 379.8h2.5M767.2 357.0h2.5M767.2 334.2h2.5M805.8 470.6v-2.5M844.4 470.6v-2.5M883.0 470.6v-2.5M921.6 470.6v-2.5" stroke="#333" stroke-width="1.1" fill="none"/>
<path d="M773.0 455.3L778.8 445.5L784.6 448.2L790.4 415.5L796.2 440.0L801.9 405.0L807.7 431.2L813.5 423.0L819.3 444.4L825.1 447.1L830.9 453.0L836.7 453.0L842.5 445.3L848.3 448.7L854.1 438.7L859.8 436.2L865.6 439.8L871.4 447.5L877.2 460.7L883.0 440.5" stroke="#1a1a1a" stroke-width="1" fill="none" stroke-linejoin="round"/>
<path d="M773.0 460.5L778.8 443.7L784.6 420.9L790.4 405.5L796.2 377.2L801.9 373.6L807.7 396.8L813.5 431.2L819.3 423.0L825.1 438.9L830.9 453.0L836.7 448.2L842.5 456.9L848.3 467.8L854.1 457.8L859.8 442.1L865.6 460.1L871.4 443.7L877.2 438.2L883.0 446.0" stroke="#1a1a1a" stroke-width="1" fill="none" stroke-linejoin="round"/>
<path d="M773.0 452.3L778.8 441.2L784.6 421.4L790.4 400.0L796.2 383.6L801.9 363.1L807.7 365.6L813.5 387.9L819.3 413.0L825.1 438.4L830.9 452.3L836.7 451.4L842.5 448.2L848.3 457.8L854.1 457.3L859.8 435.0L865.6 443.7L871.4 460.1L877.2 445.5L883.0 447.1" stroke="#1a1a1a" stroke-width="1" fill="none" stroke-linejoin="round"/>
<path d="M771.1 453.4h3.8v3.8h-3.8zM776.9 443.6h3.8v3.8h-3.8zM782.7 446.3h3.8v3.8h-3.8zM788.5 413.6h3.8v3.8h-3.8zM794.3 438.1h3.8v3.8h-3.8zM800.0 403.1h3.8v3.8h-3.8zM805.8 429.3h3.8v3.8h-3.8zM811.6 421.1h3.8v3.8h-3.8zM817.4 442.5h3.8v3.8h-3.8zM823.2 445.2h3.8v3.8h-3.8zM829.0 451.1h3.8v3.8h-3.8zM834.8 451.1h3.8v3.8h-3.8zM840.6 443.4h3.8v3.8h-3.8zM846.4 446.8h3.8v3.8h-3.8zM852.2 436.8h3.8v3.8h-3.8zM857.9 434.3h3.8v3.8h-3.8zM863.7 437.9h3.8v3.8h-3.8zM869.5 445.6h3.8v3.8h-3.8zM875.3 458.8h3.8v3.8h-3.8zM881.1 438.6h3.8v3.8h-3.8z" fill="#111"/>
<path d="M773.0 457.9l2.3 4.1h-4.6zM778.8 441.1l2.3 4.1h-4.6zM784.6 418.3l2.3 4.1h-4.6zM790.4 402.9l2.3 4.1h-4.6zM796.2 374.6l2.3 4.1h-4.6zM801.9 371.0l2.3 4.1h-4.6zM807.7 394.2l2.3 4.1h-4.6zM813.5 428.6l2.3 4.1h-4.6zM819.3 420.4l2.3 4.1h-4.6zM825.1 436.3l2.3 4.1h-4.6zM830.9 450.4l2.3 4.1h-4.6zM836.7 445.6l2.3 4.1h-4.6zM842.5 454.3l2.3 4.1h-4.6zM848.3 465.2l2.3 4.1h-4.6zM854.1 455.2l2.3 4.1h-4.6zM859.8 439.5l2.3 4.1h-4.6zM865.6 457.5l2.3 4.1h-4.6zM871.4 441.1l2.3 4.1h-4.6zM877.2 435.6l2.3 4.1h-4.6zM883.0 443.4l2.3 4.1h-4.6z" fill="#b4b4b4" stroke="#222" stroke-width="0.85"/>
<circle cx="773.0" cy="452.3" r="2.7" fill="#111"/>
<circle cx="778.8" cy="441.2" r="2.7" fill="#111"/>
<circle cx="784.6" cy="421.4" r="2.7" fill="#111"/>
<circle cx="790.4" cy="400.0" r="2.7" fill="#111"/>
<circle cx="796.2" cy="383.6" r="2.7" fill="#111"/>
<circle cx="801.9" cy="363.1" r="2.7" fill="#111"/>
<circle cx="807.7" cy="365.6" r="2.7" fill="#111"/>
<circle cx="813.5" cy="387.9" r="2.7" fill="#111"/>
<circle cx="819.3" cy="413.0" r="2.7" fill="#111"/>
<circle cx="825.1" cy="438.4" r="2.7" fill="#111"/>
<circle cx="830.9" cy="452.3" r="2.7" fill="#111"/>
<circle cx="836.7" cy="451.4" r="2.7" fill="#111"/>
<circle cx="842.5" cy="448.2" r="2.7" fill="#111"/>
<circle cx="848.3" cy="457.8" r="2.7" fill="#111"/>
<circle cx="854.1" cy="457.3" r="2.7" fill="#111"/>
<circle cx="859.8" cy="435.0" r="2.7" fill="#111"/>
<circle cx="865.6" cy="443.7" r="2.7" fill="#111"/>
<circle cx="871.4" cy="460.1" r="2.7" fill="#111"/>
<circle cx="877.2" cy="445.5" r="2.7" fill="#111"/>
<circle cx="883.0" cy="447.1" r="2.7" fill="#111"/>
<text x="763.2" y="452.3" font-size="12" text-anchor="end" font-weight="normal" fill="#222" stroke="#222" stroke-width="0.3">0</text>
<text x="763.2" y="429.6" font-size="12" text-anchor="end" font-weight="normal" fill="#222" stroke="#222" stroke-width="0.3">1</text>
<text x="763.2" y="406.8" font-size="12" text-anchor="end" font-weight="normal" fill="#222" stroke="#222" stroke-width="0.3">2</text>
<text x="763.2" y="384.1" font-size="12" text-anchor="end" font-weight="normal" fill="#222" stroke="#222" stroke-width="0.3">3</text>
<text x="763.2" y="361.3" font-size="12" text-anchor="end" font-weight="normal" fill="#222" stroke="#222" stroke-width="0.3">4</text>
<text x="763.2" y="338.6" font-size="12" text-anchor="end" font-weight="normal" fill="#222" stroke="#222" stroke-width="0.3">5</text>
<text x="763.2" y="475.1" font-size="12" text-anchor="end" font-weight="normal" fill="#222" stroke="#222" stroke-width="0.3">−1</text>
<text x="767.2" y="485" font-size="12" text-anchor="middle" font-weight="normal" fill="#222" stroke="#222" stroke-width="0.3">0</text>
<text x="805.8" y="485" font-size="12" text-anchor="middle" font-weight="normal" fill="#222" stroke="#222" stroke-width="0.3">10</text>
<text x="844.4" y="485" font-size="12" text-anchor="middle" font-weight="normal" fill="#222" stroke="#222" stroke-width="0.3">20</text>
<text x="883.0" y="485" font-size="12" text-anchor="middle" font-weight="normal" fill="#222" stroke="#222" stroke-width="0.3">30</text>
<text x="921.6" y="485" font-size="12" text-anchor="middle" font-weight="normal" fill="#222" stroke="#222" stroke-width="0.3">40</text>
<text x="817.38" y="326.9" font-size="11.8" text-anchor="start" font-weight="normal" fill="#222" textLength="55.05" lengthAdjust="spacingAndGlyphs" stroke="#222" stroke-width="0.3">6 seconds</text>
</g>
<g id="g12s" filter="url(#soft)">
<path d="M510.0 648.7V627.2H556.4V648.7" stroke="#333" stroke-width="0.9" fill="none"/>
<path d="M510.0 648.7H556.4" stroke="#222" stroke-width="1" stroke-dasharray="7 3.5" fill="none"/>
<path d="M556.4 648.7H689.7" stroke="#333" stroke-width="1" fill="none"/>
<path d="M504.2 648.7H510.0" stroke="#333" stroke-width="1" fill="none"/>
<path d="M504.2 531V678.4H689.7M504.2 670.2h2.5M504.2 648.7h2.5M504.2 627.2h2.5M504.2 605.7h2.5M504.2 584.2h2.5M504.2 562.7h2.5M504.2 541.2h2.5M542.9 678.4v-2.5M581.6 678.4v-2.5M620.3 678.4v-2.5M659.0 678.4v-2.5" stroke="#333" stroke-width="1.1" fill="none"/>
<path d="M510.0 655.4L515.8 634.5L521.6 629.6L527.4 626.1L533.2 626.1L539.0 603.6L544.8 614.5L550.6 621.8L556.4 611.5L562.2 626.1L568.1 624.2L573.9 634.9L579.7 641.8L585.5 658.4L591.3 654.1L597.1 678.4L602.9 654.5L608.7 668.3L614.5 641.6L620.3 660.5L626.1 633.2L631.9 632.4L637.7 640.7L643.5 634.9" stroke="#1a1a1a" stroke-width="1" fill="none" stroke-linejoin="round"/>
<path d="M510.0 649.1L515.8 618.8L521.6 628.5L527.4 599.2L533.2 588.5L539.0 591.7L544.8 577.3L550.6 582.1L556.4 600.3L562.2 574.5L568.1 587.2L573.9 628.5L579.7 634.5L585.5 647.2L591.3 662.5L597.1 655.2L602.9 651.1L608.7 676.4L614.5 645.3L620.3 654.9L626.1 658.8L631.9 641.6L637.7 643.3L643.5 650.6" stroke="#1a1a1a" stroke-width="1" fill="none" stroke-linejoin="round"/>
<path d="M510.0 647.6L515.8 647.6L521.6 617.7L527.4 588.5L533.2 572.4L539.0 581.0L544.8 553.9L550.6 553.0L556.4 563.8L562.2 555.2L568.1 570.2L573.9 599.9L579.7 632.6L585.5 634.5L591.3 641.2L597.1 656.9L602.9 648.1L608.7 651.1L614.5 661.8L620.3 657.9L626.1 651.9L631.9 636.4L637.7 660.7L643.5 644.6" stroke="#1a1a1a" stroke-width="1" fill="none" stroke-linejoin="round"/>
<path d="M508.1 653.5h3.8v3.8h-3.8zM513.9 632.6h3.8v3.8h-3.8zM519.7 627.7h3.8v3.8h-3.8zM525.5 624.2h3.8v3.8h-3.8zM531.3 624.2h3.8v3.8h-3.8zM537.1 601.7h3.8v3.8h-3.8zM542.9 612.6h3.8v3.8h-3.8zM548.7 619.9h3.8v3.8h-3.8zM554.5 609.6h3.8v3.8h-3.8zM560.4 624.2h3.8v3.8h-3.8zM566.2 622.3h3.8v3.8h-3.8zM572.0 633.0h3.8v3.8h-3.8zM577.8 639.9h3.8v3.8h-3.8zM583.6 656.5h3.8v3.8h-3.8zM589.4 652.2h3.8v3.8h-3.8zM595.2 676.5h3.8v3.8h-3.8zM601.0 652.6h3.8v3.8h-3.8zM606.8 666.4h3.8v3.8h-3.8zM612.6 639.7h3.8v3.8h-3.8zM618.4 658.6h3.8v3.8h-3.8zM624.2 631.3h3.8v3.8h-3.8zM630.0 630.5h3.8v3.8h-3.8zM635.8 638.8h3.8v3.8h-3.8zM641.6 633.0h3.8v3.8h-3.8z" fill="#111"/>
<path d="M510.0 646.5l2.3 4.1h-4.6zM515.8 616.2l2.3 4.1h-4.6zM521.6 625.9l2.3 4.1h-4.6zM527.4 596.6l2.3 4.1h-4.6zM533.2 585.9l2.3 4.1h-4.6zM539.0 589.1l2.3 4.1h-4.6zM544.8 574.7l2.3 4.1h-4.6zM550.6 579.5l2.3 4.1h-4.6zM556.4 597.7l2.3 4.1h-4.6zM562.2 571.9l2.3 4.1h-4.6zM568.1 584.6l2.3 4.1h-4.6zM573.9 625.9l2.3 4.1h-4.6zM579.7 631.9l2.3 4.1h-4.6zM585.5 644.6l2.3 4.1h-4.6zM591.3 659.9l2.3 4.1h-4.6zM597.1 652.6l2.3 4.1h-4.6zM602.9 648.5l2.3 4.1h-4.6zM608.7 673.8l2.3 4.1h-4.6zM614.5 642.7l2.3 4.1h-4.6zM620.3 652.3l2.3 4.1h-4.6zM626.1 656.2l2.3 4.1h-4.6zM631.9 639.0l2.3 4.1h-4.6zM637.7 640.7l2.3 4.1h-4.6zM643.5 648.0l2.3 4.1h-4.6z" fill="#b4b4b4" stroke="#222" stroke-width="0.85"/>
<circle cx="510.0" cy="647.6" r="2.7" fill="#111"/>
<circle cx="515.8" cy="647.6" r="2.7" fill="#111"/>
<circle cx="521.6" cy="617.7" r="2.7" fill="#111"/>
<circle cx="527.4" cy="588.5" r="2.7" fill="#111"/>
<circle cx="533.2" cy="572.4" r="2.7" fill="#111"/>
<circle cx="539.0" cy="581.0" r="2.7" fill="#111"/>
<circle cx="544.8" cy="553.9" r="2.7" fill="#111"/>
<circle cx="550.6" cy="553.0" r="2.7" fill="#111"/>
<circle cx="556.4" cy="563.8" r="2.7" fill="#111"/>
<circle cx="562.2" cy="555.2" r="2.7" fill="#111"/>
<circle cx="568.1" cy="570.2" r="2.7" fill="#111"/>
<circle cx="573.9" cy="599.9" r="2.7" fill="#111"/>
<circle cx="579.7" cy="632.6" r="2.7" fill="#111"/>
<circle cx="585.5" cy="634.5" r="2.7" fill="#111"/>
<circle cx="591.3" cy="641.2" r="2.7" fill="#111"/>
<circle cx="597.1" cy="656.9" r="2.7" fill="#111"/>
<circle cx="602.9" cy="648.1" r="2.7" fill="#111"/>
<circle cx="608.7" cy="651.1" r="2.7" fill="#111"/>
<circle cx="614.5" cy="661.8" r="2.7" fill="#111"/>
<circle cx="620.3" cy="657.9" r="2.7" fill="#111"/>
<circle cx="626.1" cy="651.9" r="2.7" fill="#111"/>
<circle cx="631.9" cy="636.4" r="2.7" fill="#111"/>
<circle cx="637.7" cy="660.7" r="2.7" fill="#111"/>
<circle cx="643.5" cy="644.6" r="2.7" fill="#111"/>
<text x="500.2" y="653.0" font-size="12" text-anchor="end" font-weight="normal" fill="#222" stroke="#222" stroke-width="0.3">0</text>
<text x="500.2" y="631.5" font-size="12" text-anchor="end" font-weight="normal" fill="#222" stroke="#222" stroke-width="0.3">1</text>
<text x="500.2" y="610.0" font-size="12" text-anchor="end" font-weight="normal" fill="#222" stroke="#222" stroke-width="0.3">2</text>
<text x="500.2" y="588.5" font-size="12" text-anchor="end" font-weight="normal" fill="#222" stroke="#222" stroke-width="0.3">3</text>
<text x="500.2" y="567.0" font-size="12" text-anchor="end" font-weight="normal" fill="#222" stroke="#222" stroke-width="0.3">4</text>
<text x="500.2" y="545.5" font-size="12" text-anchor="end" font-weight="normal" fill="#222" stroke="#222" stroke-width="0.3">5</text>
<text x="500.2" y="674.5" font-size="12" text-anchor="end" font-weight="normal" fill="#222" stroke="#222" stroke-width="0.3">−1</text>
<text x="504.2" y="693" font-size="12" text-anchor="middle" font-weight="normal" fill="#222" stroke="#222" stroke-width="0.3">0</text>
<text x="542.9" y="693" font-size="12" text-anchor="middle" font-weight="normal" fill="#222" stroke="#222" stroke-width="0.3">10</text>
<text x="581.6" y="693" font-size="12" text-anchor="middle" font-weight="normal" fill="#222" stroke="#222" stroke-width="0.3">20</text>
<text x="620.3" y="693" font-size="12" text-anchor="middle" font-weight="normal" fill="#222" stroke="#222" stroke-width="0.3">30</text>
<text x="659.0" y="693" font-size="12" text-anchor="middle" font-weight="normal" fill="#222" stroke="#222" stroke-width="0.3">40</text>
<text x="551.98" y="530" font-size="11.8" text-anchor="start" font-weight="normal" fill="#222" textLength="61.75" lengthAdjust="spacingAndGlyphs" stroke="#222" stroke-width="0.3">12 seconds</text>
</g>
<g id="g24s" filter="url(#soft)">
<path d="M773.6 649.7V628.0H866.5V649.7" stroke="#333" stroke-width="0.9" fill="none"/>
<path d="M773.6 649.7H866.5" stroke="#222" stroke-width="1" stroke-dasharray="7 3.5" fill="none"/>
<path d="M866.5 649.7H953.3" stroke="#333" stroke-width="1" fill="none"/>
<path d="M767.8 649.7H773.6" stroke="#333" stroke-width="1" fill="none"/>
<path d="M767.8 531V677.9H953.3M767.8 671.4h2.5M767.8 649.7h2.5M767.8 628.0h2.5M767.8 606.3h2.5M767.8 584.5h2.5M767.8 562.8h2.5M767.8 541.1h2.5M806.5 677.9v-2.5M845.2 677.9v-2.5M883.9 677.9v-2.5M922.6 677.9v-2.5" stroke="#333" stroke-width="1.1" fill="none"/>
<path d="M773.6 658.4L779.4 637.1L785.2 633.2L791.0 606.5L796.8 607.8L802.6 617.3L808.4 624.3L814.2 638.8L820.0 636.9L825.8 618.9L831.7 628.0L837.5 616.0L843.3 621.2L849.1 622.8L854.9 614.5L860.7 614.1L866.5 591.5L872.3 623.9L878.1 619.3L883.9 618.9L889.7 639.7L895.5 627.5L901.3 659.3L907.1 637.1L912.9 664.7L918.7 665.1L924.5 664.3L930.3 677.5L936.1 653.4L941.9 653.0L947.8 625.4L953.6 633.4" stroke="#1a1a1a" stroke-width="1" fill="none" stroke-linejoin="round"/>
<path d="M773.6 638.4L779.4 636.5L785.2 623.9L791.0 595.0L796.8 584.8L802.6 587.1L808.4 588.0L814.2 581.3L820.0 588.0L825.8 600.0L831.7 586.7L837.5 593.4L843.3 605.8L849.1 599.3L854.9 596.9L860.7 601.3L866.5 590.6L872.3 595.4L878.1 595.8L883.9 610.2L889.7 631.5L895.5 639.1L901.3 643.2L907.1 650.6L912.9 647.1L918.7 635.1L924.5 644.3L930.3 646.9L936.1 646.9L941.9 645.6L947.8 652.1L953.6 661.9" stroke="#1a1a1a" stroke-width="1" fill="none" stroke-linejoin="round"/>
<path d="M773.6 640.4L779.4 637.3L785.2 614.1L791.0 576.3L796.8 579.5L802.6 576.9L808.4 560.2L814.2 537.8L820.0 563.3L825.8 564.8L831.7 561.3L837.5 560.9L843.3 558.7L849.1 563.3L854.9 557.4L860.7 569.6L866.5 550.2L872.3 550.2L878.1 570.4L883.9 595.4L889.7 611.5L895.5 648.8L901.3 644.9L907.1 651.4L912.9 641.9L918.7 661.2L924.5 642.3L930.3 662.3L936.1 667.7L941.9 660.3L947.8 654.0L953.6 647.7" stroke="#1a1a1a" stroke-width="1" fill="none" stroke-linejoin="round"/>
<path d="M771.7 656.5h3.8v3.8h-3.8zM777.5 635.2h3.8v3.8h-3.8zM783.3 631.3h3.8v3.8h-3.8zM789.1 604.6h3.8v3.8h-3.8zM794.9 605.9h3.8v3.8h-3.8zM800.7 615.4h3.8v3.8h-3.8zM806.5 622.4h3.8v3.8h-3.8zM812.3 636.9h3.8v3.8h-3.8zM818.1 635.0h3.8v3.8h-3.8zM823.9 617.0h3.8v3.8h-3.8zM829.8 626.1h3.8v3.8h-3.8zM835.6 614.1h3.8v3.8h-3.8zM841.4 619.3h3.8v3.8h-3.8zM847.2 620.9h3.8v3.8h-3.8zM853.0 612.6h3.8v3.8h-3.8zM858.8 612.2h3.8v3.8h-3.8zM864.6 589.6h3.8v3.8h-3.8zM870.4 622.0h3.8v3.8h-3.8zM876.2 617.4h3.8v3.8h-3.8zM882.0 617.0h3.8v3.8h-3.8zM887.8 637.8h3.8v3.8h-3.8zM893.6 625.6h3.8v3.8h-3.8zM899.4 657.4h3.8v3.8h-3.8zM905.2 635.2h3.8v3.8h-3.8zM911.0 662.8h3.8v3.8h-3.8zM916.8 663.2h3.8v3.8h-3.8zM922.6 662.4h3.8v3.8h-3.8zM928.4 675.6h3.8v3.8h-3.8zM934.2 651.5h3.8v3.8h-3.8zM940.0 651.1h3.8v3.8h-3.8zM945.9 623.5h3.8v3.8h-3.8zM951.7 631.5h3.8v3.8h-3.8z" fill="#111"/>
<path d="M773.6 635.8l2.3 4.1h-4.6zM779.4 633.9l2.3 4.1h-4.6zM785.2 621.3l2.3 4.1h-4.6zM791.0 592.4l2.3 4.1h-4.6zM796.8 582.2l2.3 4.1h-4.6zM802.6 584.5l2.3 4.1h-4.6zM808.4 585.4l2.3 4.1h-4.6zM814.2 578.7l2.3 4.1h-4.6zM820.0 585.4l2.3 4.1h-4.6zM825.8 597.4l2.3 4.1h-4.6zM831.7 584.1l2.3 4.1h-4.6zM837.5 590.8l2.3 4.1h-4.6zM843.3 603.2l2.3 4.1h-4.6zM849.1 596.7l2.3 4.1h-4.6zM854.9 594.3l2.3 4.1h-4.6zM860.7 598.7l2.3 4.1h-4.6zM866.5 588.0l2.3 4.1h-4.6zM872.3 592.8l2.3 4.1h-4.6zM878.1 593.2l2.3 4.1h-4.6zM883.9 607.6l2.3 4.1h-4.6zM889.7 628.9l2.3 4.1h-4.6zM895.5 636.5l2.3 4.1h-4.6zM901.3 640.6l2.3 4.1h-4.6zM907.1 648.0l2.3 4.1h-4.6zM912.9 644.5l2.3 4.1h-4.6zM918.7 632.5l2.3 4.1h-4.6zM924.5 641.7l2.3 4.1h-4.6zM930.3 644.3l2.3 4.1h-4.6zM936.1 644.3l2.3 4.1h-4.6zM941.9 643.0l2.3 4.1h-4.6zM947.8 649.5l2.3 4.1h-4.6zM953.6 659.3l2.3 4.1h-4.6z" fill="#b4b4b4" stroke="#222" stroke-width="0.85"/>
<circle cx="773.6" cy="640.4" r="2.7" fill="#111"/>
<circle cx="779.4" cy="637.3" r="2.7" fill="#111"/>
<circle cx="785.2" cy="614.1" r="2.7" fill="#111"/>
<circle cx="791.0" cy="576.3" r="2.7" fill="#111"/>
<circle cx="796.8" cy="579.5" r="2.7" fill="#111"/>
<circle cx="802.6" cy="576.9" r="2.7" fill="#111"/>
<circle cx="808.4" cy="560.2" r="2.7" fill="#111"/>
<circle cx="814.2" cy="537.8" r="2.7" fill="#111"/>
<circle cx="820.0" cy="563.3" r="2.7" fill="#111"/>
<circle cx="825.8" cy="564.8" r="2.7" fill="#111"/>
<circle cx="831.7" cy="561.3" r="2.7" fill="#111"/>
<circle cx="837.5" cy="560.9" r="2.7" fill="#111"/>
<circle cx="843.3" cy="558.7" r="2.7" fill="#111"/>
<circle cx="849.1" cy="563.3" r="2.7" fill="#111"/>
<circle cx="854.9" cy="557.4" r="2.7" fill="#111"/>
<circle cx="860.7" cy="569.6" r="2.7" fill="#111"/>
<circle cx="866.5" cy="550.2" r="2.7" fill="#111"/>
<circle cx="872.3" cy="550.2" r="2.7" fill="#111"/>
<circle cx="878.1" cy="570.4" r="2.7" fill="#111"/>
<circle cx="883.9" cy="595.4" r="2.7" fill="#111"/>
<circle cx="889.7" cy="611.5" r="2.7" fill="#111"/>
<circle cx="895.5" cy="648.8" r="2.7" fill="#111"/>
<circle cx="901.3" cy="644.9" r="2.7" fill="#111"/>
<circle cx="907.1" cy="651.4" r="2.7" fill="#111"/>
<circle cx="912.9" cy="641.9" r="2.7" fill="#111"/>
<circle cx="918.7" cy="661.2" r="2.7" fill="#111"/>
<circle cx="924.5" cy="642.3" r="2.7" fill="#111"/>
<circle cx="930.3" cy="662.3" r="2.7" fill="#111"/>
<circle cx="936.1" cy="667.7" r="2.7" fill="#111"/>
<circle cx="941.9" cy="660.3" r="2.7" fill="#111"/>
<circle cx="947.8" cy="654.0" r="2.7" fill="#111"/>
<circle cx="953.6" cy="647.7" r="2.7" fill="#111"/>
<text x="763.8" y="654.0" font-size="12" text-anchor="end" font-weight="normal" fill="#222" stroke="#222" stroke-width="0.3">0</text>
<text x="763.8" y="632.3" font-size="12" text-anchor="end" font-weight="normal" fill="#222" stroke="#222" stroke-width="0.3">1</text>
<text x="763.8" y="610.6" font-size="12" text-anchor="end" font-weight="normal" fill="#222" stroke="#222" stroke-width="0.3">2</text>
<text x="763.8" y="588.8" font-size="12" text-anchor="end" font-weight="normal" fill="#222" stroke="#222" stroke-width="0.3">3</text>
<text x="763.8" y="567.1" font-size="12" text-anchor="end" font-weight="normal" fill="#222" stroke="#222" stroke-width="0.3">4</text>
<text x="763.8" y="545.4" font-size="12" text-anchor="end" font-weight="normal" fill="#222" stroke="#222" stroke-width="0.3">5</text>
<text x="763.8" y="675.7" font-size="12" text-anchor="end" font-weight="normal" fill="#222" stroke="#222" stroke-width="0.3">−1</text>
<text x="767.8" y="692.5" font-size="12" text-anchor="middle" font-weight="normal" fill="#222" stroke="#222" stroke-width="0.3">0</text>
<text x="806.5" y="692.5" font-size="12" text-anchor="middle" font-weight="normal" fill="#222" stroke="#222" stroke-width="0.3">10</text>
<text x="845.2" y="692.5" font-size="12" text-anchor="middle" font-weight="normal" fill="#222" stroke="#222" stroke-width="0.3">20</text>
<text x="883.9" y="692.5" font-size="12" text-anchor="middle" font-weight="normal" fill="#222" stroke="#222" stroke-width="0.3">30</text>
<text x="922.6" y="692.5" font-size="12" text-anchor="middle" font-weight="normal" fill="#222" stroke="#222" stroke-width="0.3">40</text>
<text x="814.6" y="528.8" font-size="11.8" text-anchor="start" font-weight="normal" fill="#222" textLength="61.74" lengthAdjust="spacingAndGlyphs" stroke="#222" stroke-width="0.3">24 seconds</text>
</g>
<g id="glabels" filter="url(#soft)">
<text x="674.68" y="326.9" font-size="12" text-anchor="start" font-weight="normal" fill="#222" textLength="64.42" lengthAdjust="spacingAndGlyphs" stroke="#222" stroke-width="0.3">Subject gmb</text>
<text transform="translate(484.2,628.34) rotate(-90)" font-size="12.3" font-weight="normal" fill="#0c0c0c" stroke="#0c0c0c" stroke-width="0.3" textLength="45.96" lengthAdjust="spacingAndGlyphs">Intensity</text>
<text x="569.53" y="706.3" font-size="12" text-anchor="start" font-weight="normal" fill="#222" textLength="57.33" lengthAdjust="spacingAndGlyphs" stroke="#222" stroke-width="0.3">Time (sec)</text>
<text x="867.58" y="365.1" font-size="12.2" text-anchor="start" font-weight="normal" fill="#222" textLength="46.11" lengthAdjust="spacingAndGlyphs" stroke="#222" stroke-width="0.3">Contrast</text>
<path d="M840.8 369.5V393M838.8 369.5h4M838.8 393h4M879.4 373V389.4M877.4 373h4M877.4 389.4h4M918.3 371.4V390.3M916.3 371.4h4M916.3 390.3h4" stroke="#666" stroke-width="0.9" fill="none"/>
<rect x="838.7" y="379.5" width="4.2" height="4.2" fill="#111"/>
<path d="M879.4 378l2.7 4.8h-5.4z" fill="#ddd" stroke="#222" stroke-width="0.8"/>
<circle cx="918.3" cy="381" r="2.9" fill="#111"/>
<text x="848.18" y="384.2" font-size="8.2" text-anchor="start" font-weight="normal" fill="#333" textLength="15.97" lengthAdjust="spacingAndGlyphs" stroke="#333" stroke-width="0.3">0.25</text>
<text x="886.67" y="384.2" font-size="8.2" text-anchor="start" font-weight="normal" fill="#333" textLength="16.57" lengthAdjust="spacingAndGlyphs" stroke="#333" stroke-width="0.3">0.50</text>
<text x="926.18" y="384.2" font-size="8.2" text-anchor="start" font-weight="normal" fill="#333" textLength="15.94" lengthAdjust="spacingAndGlyphs" stroke="#333" stroke-width="0.3">1.00</text>
</g>
<text x="743.7" y="730.8" font-size="25" text-anchor="start" font-weight="normal" fill="#000" textLength="228.35" lengthAdjust="spacingAndGlyphs">Boynton et. al. 1996</text>
</svg>
</body></html>
